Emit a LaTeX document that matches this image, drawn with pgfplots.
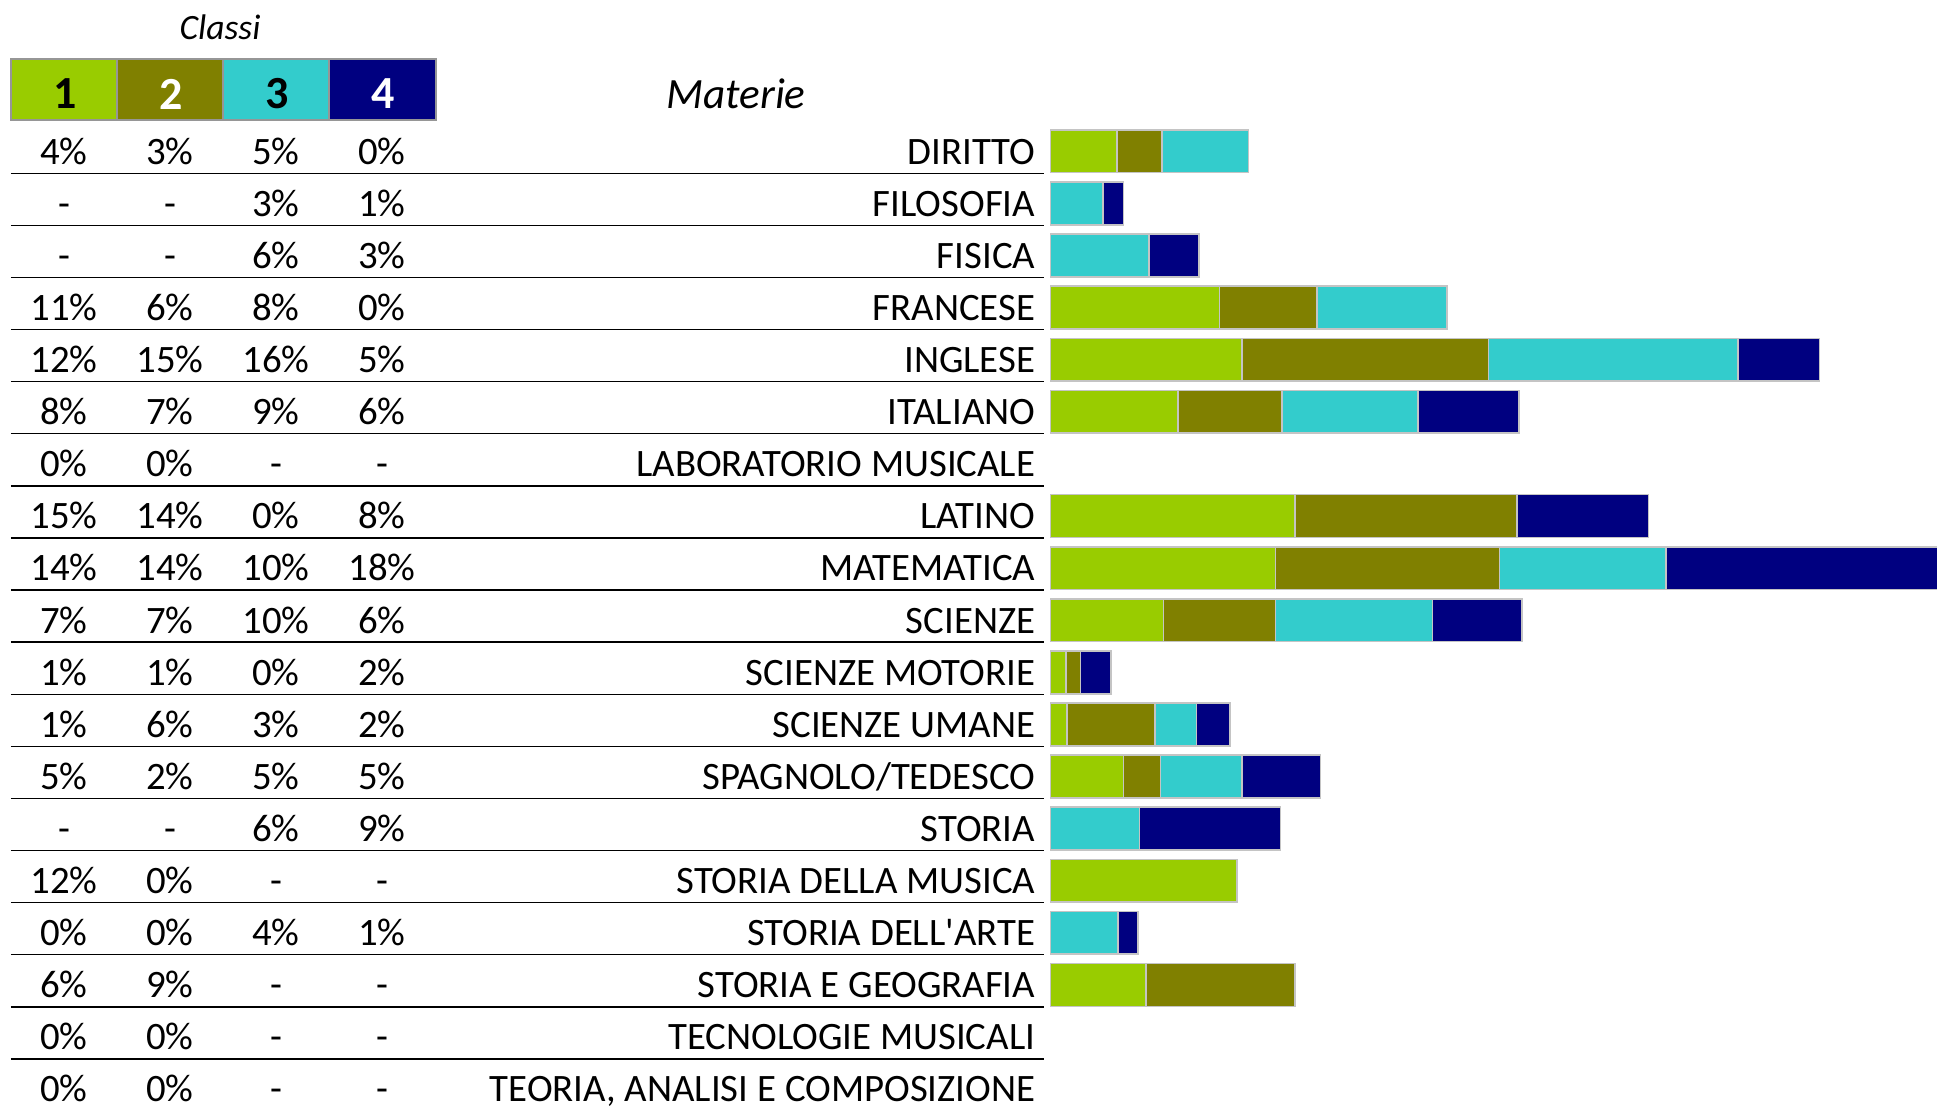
\documentclass[border=0pt]{standalone}
\usepackage{pgfplots}
\pgfplotsset{compat=1.18}
\usepackage{fontspec}
\setmainfont{Carlito}[Ligatures=TeXOff]
\definecolor{cA}{HTML}{99CC00}
\definecolor{cB}{HTML}{808000}
\definecolor{cC}{HTML}{33CCCC}
\definecolor{cD}{HTML}{000080}
\definecolor{bord}{HTML}{C4C4C4}
\definecolor{hbord}{HTML}{969696}
\newcommand{\rowfont}{\fontsize{9.7}{12}\selectfont}
\begin{document}
\begin{tikzpicture}[x=0.25pt,y=-0.25pt]
\path[use as bounding box] (0,0) rectangle (1937,1107);
% header
\node[font=\fontsize{8.9}{10}\selectfont\itshape] at (220,27) {Classi};
\node[font=\fontsize{10.8}{12}\selectfont\itshape] at (736,94) {Materie};
\fill[cA] (11,59) rectangle (117,120);
\fill[cB] (117,59) rectangle (222.7,120);
\fill[cC] (222.7,59) rectangle (329,120);
\fill[cD] (329,59) rectangle (435.7,120);
\draw[hbord, line width=0.6pt] (11,59) rectangle (435.7,120);
\draw[hbord, line width=0.6pt] (117,59) -- (117,120) (222.7,59) -- (222.7,120) (329,59) -- (329,120);
\node[font=\fontsize{11.5}{12}\selectfont\bfseries, text=black] at (65,94) {1};
\node[font=\fontsize{11.5}{12}\selectfont\bfseries, text=white] at (171,94) {2};
\node[font=\fontsize{11.5}{12}\selectfont\bfseries, text=black] at (277,94) {3};
\node[font=\fontsize{11.5}{12}\selectfont\bfseries, text=white] at (383,94) {4};

% table axis
\begin{axis}[at={(2.75pt,-31.3125pt)}, anchor=north west, scale only axis,
  width=258.25pt, height=244.87pt,
  xmin=11, xmax=1044, ymin=-0.5, ymax=18.3, y dir=reverse,
  axis line style={draw=none}, xtick=\empty, ytick=\empty,
  extra y ticks={0.42,1.42,2.42,3.42,4.42,5.42,6.42,7.42,8.42,9.42,10.42,11.42,12.42,13.42,14.42,15.42,16.42,17.42},
  extra y tick labels={},
  extra y tick style={grid=major, major tick length=0pt},
  major grid style={black, line width=0.35pt},
  clip=false]
\addplot[draw=none, mark=none, nodes near coords, point meta=explicit symbolic,
  every node near coord/.append style={anchor=base, yshift=-3.2pt, inner sep=0pt, font=\rowfont, text=black}]
  table[meta=t] {
x y t
64 0 4\%
170 0 3\%
276 0 5\%
382 0 0\%
64 1 -
170 1 -
276 1 3\%
382 1 1\%
64 2 -
170 2 -
276 2 6\%
382 2 3\%
64 3 11\%
170 3 6\%
276 3 8\%
382 3 0\%
64 4 12\%
170 4 15\%
276 4 16\%
382 4 5\%
64 5 8\%
170 5 7\%
276 5 9\%
382 5 6\%
64 6 0\%
170 6 0\%
276 6 -
382 6 -
64 7 15\%
170 7 14\%
276 7 0\%
382 7 8\%
64 8 14\%
170 8 14\%
276 8 10\%
382 8 18\%
64 9 7\%
170 9 7\%
276 9 10\%
382 9 6\%
64 10 1\%
170 10 1\%
276 10 0\%
382 10 2\%
64 11 1\%
170 11 6\%
276 11 3\%
382 11 2\%
64 12 5\%
170 12 2\%
276 12 5\%
382 12 5\%
64 13 -
170 13 -
276 13 6\%
382 13 9\%
64 14 12\%
170 14 0\%
276 14 -
382 14 -
64 15 0\%
170 15 0\%
276 15 4\%
382 15 1\%
64 16 6\%
170 16 9\%
276 16 -
382 16 -
64 17 0\%
170 17 0\%
276 17 -
382 17 -
64 18 0\%
170 18 0\%
276 18 -
382 18 -
};
\end{axis}

% bar axis
\begin{axis}[at={(262.5pt,-31.3125pt)}, anchor=north west, scale only axis,
  width=221.75pt, height=244.87pt,
  xmin=0, xmax=55.44, ymin=-0.5, ymax=18.3, y dir=reverse,
  xbar stacked, bar width=10.68pt,
  axis line style={draw=none}, xtick=\empty,
  ytick={0,...,18}, major tick length=0pt,
  yticklabels={DIRITTO,FILOSOFIA,FISICA,FRANCESE,INGLESE,ITALIANO,LABORATORIO MUSICALE,LATINO,MATEMATICA,SCIENZE,SCIENZE MOTORIE,SCIENZE UMANE,SPAGNOLO/TEDESCO,STORIA,STORIA DELLA MUSICA,STORIA DELL'ARTE,STORIA E GEOGRAFIA,TECNOLOGIE MUSICALI,{TEORIA, ANALISI E COMPOSIZIONE}},
  yticklabel style={anchor=base east, inner sep=0pt, xshift=-3.5pt, yshift=-3.2pt, font=\rowfont},
  every axis plot/.append style={draw=bord, line width=0.4pt}]
\addplot[fill=cA] coordinates {(4.2,0) (0,1) (0,2) (10.6,3) (12.0,4) (8.0,5) (15.3,7) (14.1,8) (7.1,9) (1.0,10) (1.06,11) (4.6,12) (0,13) (11.7,14) (0,15) (6.0,16)};
\addplot[fill=cB] coordinates {(2.8,0) (0,1) (0,2) (6.1,3) (15.4,4) (6.5,5) (13.9,7) (14.0,8) (7.0,9) (0.9,10) (5.5,11) (2.3,12) (0,13) (0,14) (0,15) (9.3,16)};
\addplot[fill=cC] coordinates {(5.4,0) (3.3,1) (6.2,2) (8.1,3) (15.6,4) (8.5,5) (0,7) (10.4,8) (9.8,9) (0,10) (2.6,11) (5.1,12) (5.6,13) (0,14) (4.25,15) (0,16)};
\addplot[fill=cD] coordinates {(0,0) (1.3,1) (3.1,2) (0,3) (5.1,4) (6.3,5) (8.2,7) (18.0,8) (5.6,9) (1.9,10) (2.1,11) (4.9,12) (8.8,13) (0,14) (1.25,15) (0,16)};
\end{axis}
\end{tikzpicture}
\end{document}
